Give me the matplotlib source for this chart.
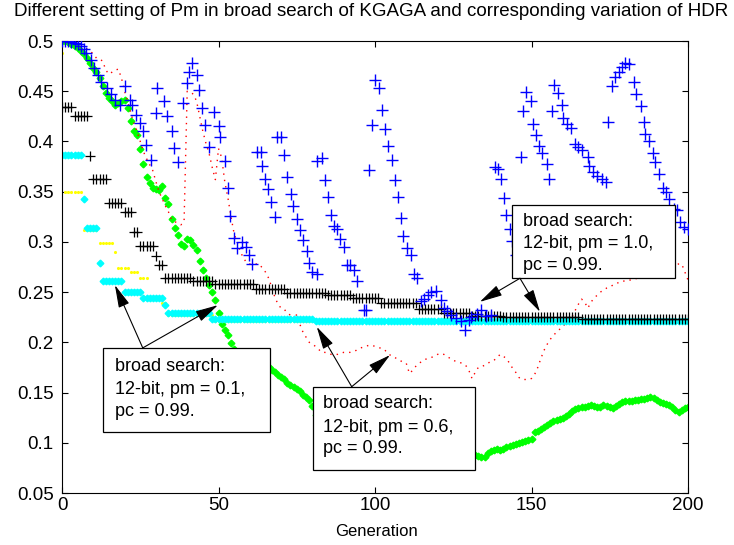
import numpy as np
import matplotlib
matplotlib.use('Agg')
import matplotlib.pyplot as plt
from matplotlib.patches import Rectangle

plt.rcParams['font.family'] = ['Liberation Sans', 'DejaVu Sans']

# ---------------- data ----------------
generations = np.arange(0, 201)

# black '+' series (run-length: level, number of generations)
black_levels = [0.434, 0.425, 0.386, 0.363, 0.339, 0.330, 0.310, 0.296, 0.286, 0.277,
                0.264, 0.261, 0.258, 0.253, 0.249, 0.247, 0.244, 0.239, 0.233, 0.229,
                0.226, 0.225, 0.223]
black_counts = [4, 5, 1, 5, 5, 3, 2, 5, 1, 2, 9, 7, 13, 10, 13, 8, 9, 12, 8, 9, 10, 25, 35]

# cyan series
cyan_levels = [0.387, 0.343, 0.314, 0.279, 0.261, 0.250, 0.244, 0.237, 0.229, 0.223, 0.2215]
cyan_counts = [7, 1, 4, 1, 7, 6, 7, 1, 14, 33, 120]

# yellow series
yellow_levels = [0.488, 0.350, 0.312, 0.2985, 0.290, 0.274, 0.270, 0.264, 0.243, 0.239, 0.227, 0.2212]
yellow_counts = [1, 6, 5, 5, 1, 4, 3, 3, 4, 2, 15, 152]

# green series, one value per generation 0..200
green_values = [
    0.500, 0.500, 0.499, 0.497, 0.495, 0.493, 0.490, 0.487, 0.483, 0.478,
    0.473, 0.469, 0.463, 0.455, 0.448, 0.443, 0.440, 0.436, 0.438, 0.440,
    0.441, 0.433, 0.420, 0.410, 0.406, 0.392, 0.378, 0.365, 0.359, 0.354,
    0.353, 0.352, 0.356, 0.344, 0.338, 0.323, 0.314, 0.307, 0.298, 0.296,
    0.303, 0.302, 0.297, 0.292, 0.281, 0.272, 0.264, 0.257, 0.250, 0.242,
    0.229, 0.218, 0.212, 0.207, 0.199, 0.193, 0.189, 0.187, 0.184, 0.183,
    0.189, 0.189, 0.188, 0.187, 0.182, 0.179, 0.175, 0.172, 0.170, 0.167,
    0.165, 0.163, 0.160, 0.158, 0.156, 0.154, 0.152, 0.148, 0.146, 0.143,
    0.137, 0.128, 0.118, 0.115, 0.114, 0.112, 0.110, 0.107, 0.105, 0.102,
    0.099, 0.097, 0.096, 0.094, 0.092, 0.091, 0.089, 0.087, 0.084, 0.081,
    0.079, 0.080, 0.082, 0.081, 0.083, 0.086, 0.088, 0.089, 0.090, 0.091,
    0.092, 0.092, 0.093, 0.093, 0.094, 0.093, 0.092, 0.091, 0.090, 0.089,
    0.088, 0.089, 0.090, 0.089, 0.088, 0.089, 0.090, 0.089, 0.088, 0.087,
    0.089, 0.090, 0.088, 0.087, 0.086, 0.086, 0.090, 0.092, 0.093, 0.094,
    0.093, 0.094, 0.096, 0.097, 0.098, 0.099, 0.100, 0.101, 0.102, 0.103,
    0.104, 0.111, 0.112, 0.114, 0.116, 0.118, 0.120, 0.122, 0.123, 0.124,
    0.125, 0.127, 0.129, 0.132, 0.134, 0.135, 0.136, 0.136, 0.137, 0.138,
    0.137, 0.136, 0.136, 0.138, 0.137, 0.136, 0.135, 0.137, 0.139, 0.141,
    0.142, 0.142, 0.142, 0.143, 0.143, 0.144, 0.144, 0.145, 0.146, 0.145,
    0.143, 0.141, 0.140, 0.139, 0.138, 0.136, 0.133, 0.131, 0.133, 0.135,
    0.136]

# red dotted series, one value per generation 0..200
red_values = [
    0.500, 0.500, 0.499, 0.498, 0.497, 0.496, 0.495, 0.494, 0.492, 0.490,
    0.487, 0.483, 0.482, 0.480, 0.471, 0.467, 0.469, 0.471, 0.472, 0.463,
    0.450, 0.440, 0.428, 0.418, 0.410, 0.400, 0.390, 0.383, 0.377, 0.371,
    0.360, 0.350, 0.343, 0.336, 0.330, 0.322, 0.320, 0.319, 0.317, 0.320,
    0.450, 0.449, 0.447, 0.440, 0.425, 0.410, 0.398, 0.388, 0.374, 0.362,
    0.393, 0.384, 0.360, 0.344, 0.325, 0.308, 0.300, 0.290, 0.284, 0.279,
    0.278, 0.278, 0.278, 0.278, 0.274, 0.270, 0.264, 0.255, 0.245, 0.238,
    0.234, 0.233, 0.229, 0.227, 0.222, 0.228, 0.218, 0.210, 0.205, 0.200,
    0.198, 0.196, 0.193, 0.190, 0.190, 0.189, 0.188, 0.188, 0.188, 0.189,
    0.190, 0.190, 0.190, 0.191, 0.192, 0.194, 0.195, 0.196, 0.197, 0.197,
    0.196, 0.195, 0.194, 0.193, 0.189, 0.187, 0.185, 0.184, 0.182, 0.180,
    0.179, 0.169, 0.172, 0.176, 0.179, 0.181, 0.183, 0.184, 0.185, 0.186,
    0.188, 0.189, 0.188, 0.186, 0.184, 0.182, 0.181, 0.180, 0.179, 0.177,
    0.172, 0.164, 0.170, 0.175, 0.176, 0.177, 0.179, 0.181, 0.182, 0.185,
    0.188, 0.186, 0.184, 0.179, 0.174, 0.170, 0.165, 0.163, 0.163, 0.163,
    0.164, 0.168, 0.175, 0.184, 0.192, 0.198, 0.203, 0.207, 0.210, 0.213,
    0.216, 0.219, 0.222, 0.226, 0.232, 0.238, 0.243, 0.240, 0.234, 0.240,
    0.244, 0.247, 0.250, 0.252, 0.254, 0.255, 0.257, 0.258, 0.260, 0.261,
    0.261, 0.262, 0.262, 0.263, 0.264, 0.265, 0.266, 0.268, 0.269, 0.270,
    0.271, 0.272, 0.273, 0.274, 0.275, 0.276, 0.277, 0.278, 0.278, 0.270,
    0.262]

# blue '+' series (generation, value) pairs
blue_gen = [0, 1, 2, 3, 4, 5, 6, 7, 7.8, 9.4, 10.3, 11.5, 12.6, 14.5, 15.8, 16.9, 18.5,
            20.1, 21.7, 22.4, 23.8, 24.9, 26, 26.7, 28.4, 29.9, 30.5, 32.7, 33.4, 35,
            35.9, 37.2, 38.8, 40, 40.5, 41.6, 43.2, 43.9, 44.8, 45.6, 46.9, 48.5, 50.1,
            50.6, 52, 53.1, 53.8, 54.9, 56, 57.6, 58.7, 59.7, 60.8, 62.4, 63.5, 64, 65,
            65.8, 66.9, 68, 68.8, 69.9, 70.9, 72, 73.1, 73.9, 75.2, 76, 77.1, 78.2, 79,
            80, 81.4, 81.6, 83.2, 84, 85, 86.1, 86.8, 88, 88.9, 90.2, 91, 92.1, 93.4,
            94.2, 96.6, 97.1, 98.2, 98.9, 100, 101.4, 102.1, 103.2, 104, 105.3, 106.4,
            107.3, 108.3, 109.1, 110.3, 111.5, 112.4, 113.5, 114.7, 115.8, 116.9, 118,
            119.6, 121.2, 122, 123, 124.4, 126, 127.5, 128.6, 130, 130.8, 132.5, 134,
            135.5, 137.2, 138.2, 139.3, 140.4, 141.2, 142, 143, 143.8, 145.2, 146.6,
            147.3, 148.4, 149.8, 150.5, 151.3, 152.3, 153.4, 154.8, 155.5, 156.6, 157.3,
            158.6, 159.6, 160.2, 161.5, 162.6, 163.9, 165, 166.2, 168, 168.4, 169.8, 171,
            172.5, 173.7, 174.6, 175.6, 176.7, 177.8, 179, 180, 181.2, 182.9, 183.3, 185,
            185.8, 186.3, 187.4, 188.7, 189.5, 190.6, 191.9, 193, 193.8, 195.4, 196.5,
            197.5, 198.7, 200]
blue_val = [0.5, 0.5, 0.5, 0.499, 0.498, 0.497, 0.495, 0.492, 0.488, 0.481, 0.473, 0.466,
            0.459, 0.453, 0.447, 0.441, 0.436, 0.455, 0.441, 0.436, 0.426, 0.418, 0.41,
            0.396, 0.382, 0.428, 0.453, 0.44, 0.425, 0.41, 0.393, 0.38, 0.438, 0.458,
            0.469, 0.478, 0.466, 0.451, 0.433, 0.416, 0.394, 0.429, 0.415, 0.404, 0.381,
            0.354, 0.326, 0.304, 0.294, 0.30, 0.295, 0.287, 0.278, 0.389, 0.389, 0.376,
            0.363, 0.353, 0.34, 0.325, 0.404, 0.404, 0.387, 0.365, 0.348, 0.336, 0.323,
            0.312, 0.302, 0.291, 0.279, 0.27, 0.268, 0.381, 0.384, 0.362, 0.345, 0.327,
            0.316, 0.313, 0.303, 0.295, 0.277, 0.277, 0.272, 0.261, 0.232, 0.232, 0.372,
            0.416, 0.461, 0.453, 0.431, 0.412, 0.395, 0.382, 0.362, 0.345, 0.324, 0.306,
            0.294, 0.287, 0.268, 0.264, 0.241, 0.243, 0.247, 0.25, 0.251, 0.242, 0.234,
            0.231, 0.227, 0.224, 0.221, 0.212, 0.222, 0.225, 0.228, 0.232, 0.226, 0.227,
            0.375, 0.373, 0.363, 0.344, 0.327, 0.313, 0.301, 0.287, 0.385, 0.43, 0.449,
            0.44, 0.417, 0.406, 0.395, 0.388, 0.378, 0.363, 0.43, 0.456, 0.448, 0.436,
            0.423, 0.417, 0.413, 0.397, 0.394, 0.391, 0.385, 0.376, 0.37, 0.366, 0.363,
            0.36, 0.419, 0.455, 0.464, 0.469, 0.474, 0.478, 0.477, 0.459, 0.447, 0.435,
            0.419, 0.407, 0.4, 0.388, 0.38, 0.368, 0.354, 0.35, 0.343, 0.333, 0.332, 0.32,
            0.315, 0.313]

x_ticks = [0, 50, 100, 150, 200]
y_ticks = [0.05, 0.1, 0.15, 0.2, 0.25, 0.3, 0.35, 0.4, 0.45, 0.5]
y_tick_labels = ['0.05', '0.1', '0.15', '0.2', '0.25', '0.3', '0.35', '0.4', '0.45', '0.5']

title = 'Different setting of Pm in broad search of KGAGA and corresponding variation of HDR'
box_texts = [
    ['broad search:', '12-bit, pm = 0.1,', 'pc = 0.99.'],
    ['broad search:', '12-bit, pm = 0.6,', 'pc = 0.99.'],
    ['broad search:', '12-bit, pm = 1.0,', 'pc = 0.99.'],
]
# arrow targets (generation, value) for each box
arrow_targets = [
    [(16.9, 0.257), (49.8, 0.237)],
    [(81.4, 0.2154), (104.8, 0.1873)],
    [(133.5, 0.2403), (152.7, 0.2304)],
]

# ---------------- figure ----------------
black_values = np.repeat(black_levels, black_counts)
cyan_values = np.repeat(cyan_levels, cyan_counts)
yellow_values = np.repeat(yellow_levels, yellow_counts)

fig = plt.figure(figsize=(7.34, 5.45), dpi=100)
ax = fig.add_axes([62 / 734, 1 - 493 / 545, 626 / 734, 452 / 545])

ax.plot(generations, green_values, linestyle='none', marker='D', ms=3.4,
        color='#00ff00', mec='#00ff00', zorder=2)
ax.plot(generations, red_values, linestyle=(0, (1, 3.6)), lw=1.0,
        color='#ff0000', zorder=2.2)
ax.plot(generations, yellow_values, linestyle='none', marker='.', ms=2.5,
        color='#ffff00', zorder=2.4)
ax.plot(generations, cyan_values, linestyle='none', marker='D', ms=3.4,
        color='#00ffff', mec='#00ffff', zorder=2.5)
ax.plot(generations, black_values, linestyle='none', marker='+', ms=7, mew=0.9,
        color='black', zorder=2.6)
ax.plot(blue_gen, blue_val, linestyle='none', marker='+', ms=8, mew=1.0,
        color='#0000ff', zorder=2.8)

ax.set_xlim(0, 200)
ax.set_ylim(0.05, 0.5)
ax.set_xticks(x_ticks)
ax.set_xticklabels([str(t) for t in x_ticks])
ax.set_yticks(y_ticks)
ax.set_yticklabels(y_tick_labels)
ax.tick_params(direction='in', length=4, width=0.8, top=True, right=True,
               labelsize=13.5, colors='black')
ax.tick_params(axis='x', pad=3)
ax.tick_params(axis='y', pad=6)
for s in ax.spines.values():
    s.set_linewidth(0.8)

fig.text(371 / 734, 1 - 12 / 545, title, ha='center', va='center', fontsize=13.5)
fig.text(377 / 734, 1 - 532 / 545, 'Generation', ha='center', va='center', fontsize=12)

# annotation boxes (axes fraction): x0, x1, y_bottom, y_top
boxes = [
    (0.0655, 0.332, 0.135, 0.321),
    (0.4014, 0.6597, 0.0509, 0.2352),
    (0.7184, 0.9792, 0.475, 0.637),
]
text_left = [0.0847, 0.4164, 0.736]
line_y = [
    (0.279, 0.230, 0.181),
    (0.198, 0.146, 0.098),
    (0.600, 0.552, 0.504),
]
arrow_origin = [(0.129, 0.321), (0.4628, 0.2352), (0.7316, 0.475)]

for i, (x0, x1, yb, yt) in enumerate(boxes):
    ax.add_patch(Rectangle((x0, yb), x1 - x0, yt - yb, transform=ax.transAxes,
                           facecolor='white', edgecolor='black', lw=0.9, zorder=4))
    for txt, yy in zip(box_texts[i], line_y[i]):
        ax.text(text_left[i], yy, txt, transform=ax.transAxes, ha='left', va='center',
                fontsize=13, zorder=5)
    for tgt in arrow_targets[i]:
        ax.annotate('', xy=tgt, xycoords='data', xytext=arrow_origin[i],
                    textcoords='axes fraction',
                    arrowprops=dict(arrowstyle='-|>,head_length=1.0,head_width=0.25',
                                    color='black', lw=0.8, mutation_scale=14,
                                    shrinkA=0, shrinkB=0), zorder=5)

fig.savefig('out.png', dpi=100)
